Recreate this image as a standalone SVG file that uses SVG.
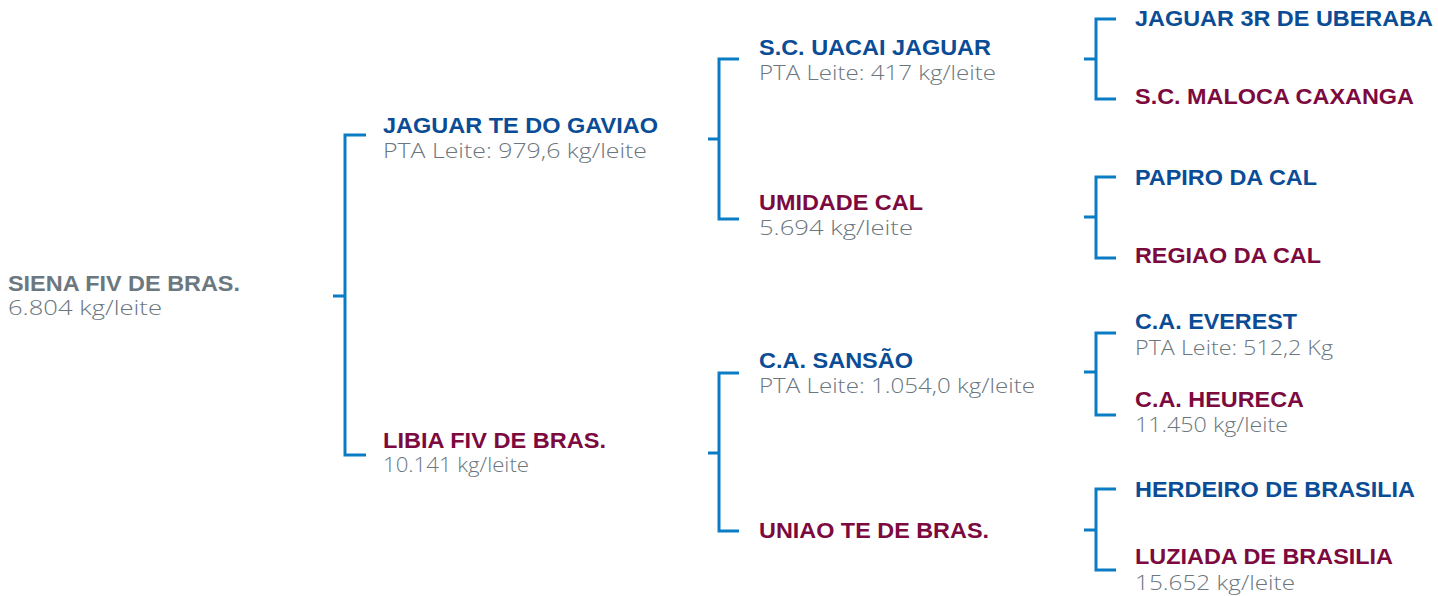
<svg xmlns="http://www.w3.org/2000/svg" width="1438" height="596" viewBox="0 0 1438 596">
<style>
.nm{font-family:"Liberation Sans",Arial,sans-serif;font-weight:bold;font-size:22.5px}
.b{fill:#0b4c96}
.m{fill:#7c0a3f}
.g{fill:#6b7880}
.sub{font-family:"Open Sans","Lato",sans-serif;font-weight:300;font-size:21px;fill:#6b767e}
.br{fill:none;stroke:#0a7cc4;stroke-width:3}
</style>
<rect width="1438" height="596" fill="#ffffff"/>
<g id="connectors">
<path class="br" d="M333,296H345M366,135H345V455H366"/>
<path class="br" d="M708,139H719M739,59H719V219H739"/>
<path class="br" d="M708,453H719M739,373H719V531H739"/>
<path class="br" d="M1084,59H1096M1116,19H1096V99H1116"/>
<path class="br" d="M1084,217H1096M1116,177H1096V258H1116"/>
<path class="br" d="M1084,372H1096M1116,333H1096V415H1116"/>
<path class="br" d="M1084,530H1096M1116,489H1096V570H1116"/>
</g>
<g id="siena">
<text class="nm g" x="8" y="291" textLength="232" lengthAdjust="spacingAndGlyphs">SIENA FIV DE BRAS.</text>
<text class="sub" x="8" y="315" textLength="154" lengthAdjust="spacingAndGlyphs">6.804 kg/leite</text>
</g>
<g id="jaguar-te">
<text class="nm b" x="383" y="133" textLength="275" lengthAdjust="spacingAndGlyphs">JAGUAR TE DO GAVIAO</text>
<text class="sub" x="383" y="158" textLength="264" lengthAdjust="spacingAndGlyphs">PTA Leite: 979,6 kg/leite</text>
</g>
<g id="libia">
<text class="nm m" x="383" y="448" textLength="223" lengthAdjust="spacingAndGlyphs">LIBIA FIV DE BRAS.</text>
<text class="sub" x="383" y="472" textLength="146" lengthAdjust="spacingAndGlyphs">10.141 kg/leite</text>
</g>
<g id="uacai">
<text class="nm b" x="759" y="55" textLength="232" lengthAdjust="spacingAndGlyphs">S.C. UACAI JAGUAR</text>
<text class="sub" x="759" y="80" textLength="237" lengthAdjust="spacingAndGlyphs">PTA Leite: 417 kg/leite</text>
</g>
<g id="umidade">
<text class="nm m" x="759" y="210" textLength="164" lengthAdjust="spacingAndGlyphs">UMIDADE CAL</text>
<text class="sub" x="759" y="235" textLength="154" lengthAdjust="spacingAndGlyphs">5.694 kg/leite</text>
</g>
<g id="sansao">
<text class="nm b" x="759" y="368" textLength="154" lengthAdjust="spacingAndGlyphs">C.A. SANSÃO</text>
<text class="sub" x="759" y="393" textLength="276" lengthAdjust="spacingAndGlyphs">PTA Leite: 1.054,0 kg/leite</text>
</g>
<g id="uniao">
<text class="nm m" x="759" y="538" textLength="230" lengthAdjust="spacingAndGlyphs">UNIAO TE DE BRAS.</text>
</g>
<g id="jaguar3r">
<text class="nm b" x="1135" y="26" textLength="298" lengthAdjust="spacingAndGlyphs">JAGUAR 3R DE UBERABA</text>
</g>
<g id="maloca">
<text class="nm m" x="1135" y="104" textLength="279" lengthAdjust="spacingAndGlyphs">S.C. MALOCA CAXANGA</text>
</g>
<g id="papiro">
<text class="nm b" x="1135" y="185" textLength="182" lengthAdjust="spacingAndGlyphs">PAPIRO DA CAL</text>
</g>
<g id="regiao">
<text class="nm m" x="1135" y="263" textLength="186" lengthAdjust="spacingAndGlyphs">REGIAO DA CAL</text>
</g>
<g id="everest">
<text class="nm b" x="1135" y="329" textLength="162" lengthAdjust="spacingAndGlyphs">C.A. EVEREST</text>
<text class="sub" x="1135" y="355" textLength="198" lengthAdjust="spacingAndGlyphs">PTA Leite: 512,2 Kg</text>
</g>
<g id="heureca">
<text class="nm m" x="1135" y="407" textLength="169" lengthAdjust="spacingAndGlyphs">C.A. HEURECA</text>
<text class="sub" x="1135" y="432" textLength="153" lengthAdjust="spacingAndGlyphs">11.450 kg/leite</text>
</g>
<g id="herdeiro">
<text class="nm b" x="1135" y="497" textLength="280" lengthAdjust="spacingAndGlyphs">HERDEIRO DE BRASILIA</text>
</g>
<g id="luziada">
<text class="nm m" x="1135" y="564" textLength="258" lengthAdjust="spacingAndGlyphs">LUZIADA DE BRASILIA</text>
<text class="sub" x="1135" y="590" textLength="160" lengthAdjust="spacingAndGlyphs">15.652 kg/leite</text>
</g>
</svg>
